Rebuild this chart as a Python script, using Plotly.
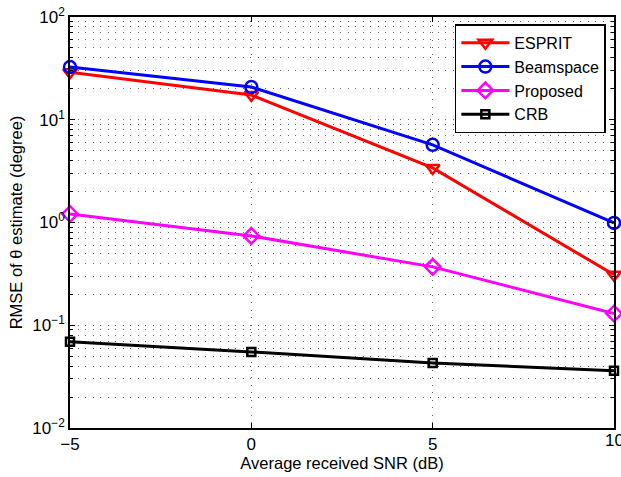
import plotly.graph_objects as go

snr = [-5, 0, 5, 10]
esprit = [29, 17.4, 3.4, 0.31]
beamspace = [32.6, 20.8, 5.7, 0.99]
proposed = [1.21, 0.74, 0.37, 0.13]
crb = [0.069, 0.055, 0.043, 0.036]

y_tickvals = [0.01, 0.1, 1, 10, 100]
y_ticktext = ["10<sup>\u22122</sup>", "10<sup>\u22121</sup>", "10<sup>0</sup>", "10<sup>1</sup>", "10<sup>2</sup>"]
x_tickvals = [-5, 0, 5, 10]
x_ticktext = ["\u22125", "0", "5", "10"]

series = [
    ("ESPRIT", esprit, "#ff0000", "triangle-down-open"),
    ("Beamspace", beamspace, "#0000ff", "circle-open"),
    ("Proposed", proposed, "#ff00ff", "diamond-open"),
    ("CRB", crb, "#000000", "square-open"),
]

fig = go.Figure()
for name, vals, color, sym in series:
    fig.add_trace(go.Scatter(
        x=snr, y=vals, name=name, mode="lines+markers",
        line=dict(color=color, width=3),
        marker=dict(symbol=sym, size=12 if sym != "square-open" else 8,
                    color=color, line=dict(color=color, width=2.5)),
        cliponaxis=False,
    ))

FAM = "Liberation Sans"
grid_dash = "1px,6.5px"
grid_col = "#666"
TICK = 17
TITLE = 16.5

# last x tick label drawn as annotation (it runs into the page edge like the reference)
fig.add_annotation(x=x_tickvals[-1], y=0, xref="x", yref="paper",
                   text=x_ticktext[-1], showarrow=False, xanchor="center", yanchor="top",
                   yshift=-1, font=dict(family=FAM, size=TICK, color="black"))

fig.update_layout(
    width=621, height=477,
    margin=dict(l=70, r=7, t=17, b=49),
    paper_bgcolor="white", plot_bgcolor="white",
    font=dict(family=FAM, size=TITLE, color="black"),
    showlegend=True,
    legend=dict(x=0.985, y=0.982, xanchor="right", yanchor="top",
                bgcolor="white", bordercolor="black", borderwidth=1.5,
                font=dict(family=FAM, size=16, color="black"), itemwidth=48, tracegroupgap=0),
    xaxis=dict(
        range=[-5, 10], tickvals=x_tickvals[:-1], ticktext=x_ticktext[:-1],
        tickfont=dict(family=FAM, size=TICK, color="black"), automargin=False,
        showgrid=True, gridcolor=grid_col, griddash=grid_dash, gridwidth=1,
        ticks="inside", ticklen=5, tickcolor="black",
        showline=True, linecolor="black", linewidth=1.5, mirror="ticks",
        zeroline=False,
        title=dict(text="Average received SNR (dB)", standoff=2,
                   font=dict(family=FAM, size=TITLE, color="black")),
    ),
    yaxis=dict(
        type="log", range=[-2, 2], tickvals=y_tickvals, ticktext=y_ticktext,
        tickfont=dict(family=FAM, size=TICK, color="black"), automargin=False,
        showgrid=True, gridcolor=grid_col, griddash=grid_dash, gridwidth=1,
        ticks="inside", ticklen=5, tickcolor="black",
        showline=True, linecolor="black", linewidth=1.5, mirror="ticks",
        zeroline=False,
        minor=dict(showgrid=True, gridcolor=grid_col, griddash=grid_dash, gridwidth=1,
                   ticks="inside", ticklen=3, tickcolor="black",
                   tickvals=[m * 10**e for e in range(-2, 2) for m in range(2, 10)]),
        title=dict(text="RMSE of \u03b8 estimate (degree)", standoff=6,
                   font=dict(family=FAM, size=TITLE, color="black")),
    ),
)

fig.write_html("out.html")
